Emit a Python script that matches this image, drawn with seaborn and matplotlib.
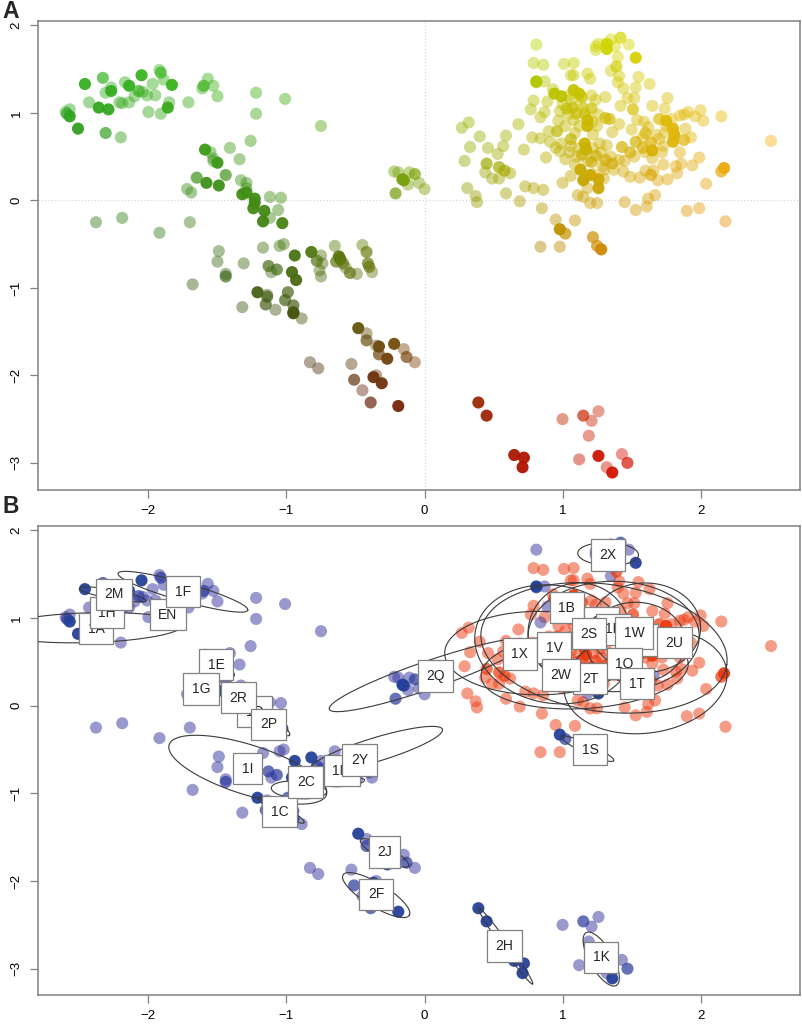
"""Two panel ordination map: position coloured points (A) and labelled group ellipses (B)."""

import matplotlib

matplotlib.use("Agg")
import matplotlib.pyplot as plt
import numpy as np
import pandas as pd
import seaborn as sns

# Point estimates (x, y), split by how saturated they are drawn
light_points = [
    (-2.60, 1.01), (-2.57, 1.04), (-2.43, 1.12), (-2.20, 0.72), (-2.27, 1.29), (-2.31, 1.23), (-2.17, 1.35),
    (-2.21, 1.12), (-2.19, 1.11), (-2.14, 1.12), (-2.10, 1.19), (-2.04, 1.24), (-2.01, 1.20), (-1.95, 1.20),
    (-1.97, 1.33), (-2.00, 1.01), (-1.91, 0.99), (-1.85, 1.12), (-1.92, 1.49), (-1.89, 1.38), (-1.71, 1.12),
    (-1.61, 1.28), (-1.57, 1.39), (-1.53, 1.31), (-1.50, 1.19), (-1.22, 1.23), (-1.22, 0.99), (-1.01, 1.16),
    (-0.75, 0.85), (-1.26, 0.68), (-1.41, 0.60), (-1.34, 0.47), (-1.55, 0.55), (-1.53, 0.45), (-1.53, 0.48),
    (-1.72, 0.13), (-1.69, 0.09), (-1.33, 0.23), (-1.29, 0.20), (-1.29, 0.14), (-1.12, 0.04), (-1.04, 0.03),
    (-1.06, -0.11), (-1.12, -0.20), (-2.38, -0.25), (-2.19, -0.20), (-1.70, -0.25), (-1.92, -0.37),
    (-0.22, 0.33), (-0.19, 0.32), (-0.11, 0.32), (-0.04, 0.20), (-0.12, 0.18), (0.00, 0.13),
    (-1.49, -0.58), (-1.50, -0.70), (-1.31, -0.72), (-1.44, -0.84), (-1.68, -0.96), (-1.17, -0.54),
    (-1.05, -0.52), (-1.02, -0.50), (-1.11, -0.82), (-1.14, -1.08), (-1.08, -1.25), (-1.32, -1.22), (-0.89, -1.35),
    (-0.75, -0.63), (-0.74, -0.72), (-0.76, -0.80), (-0.75, -0.87), (-0.65, -0.52), (-0.57, -0.77), (-0.49, -0.84),
    (-0.45, -0.51), (-0.38, -0.82), (-0.42, -1.52), (-0.35, -1.66), (-0.15, -1.70), (-0.07, -1.85), (-0.83, -1.85),
    (-0.77, -1.92), (-0.53, -1.87), (-0.35, -2.00), (-0.45, -2.17),
    (1.00, -2.50), (1.26, -2.41), (1.21, -2.52), (1.19, -2.69), (1.12, -2.96), (1.43, -2.90), (1.32, -3.05),
    (0.81, 1.78), (0.79, 1.57), (0.86, 1.55), (1.01, 1.56), (1.08, 1.57), (1.06, 1.43), (1.08, 1.43), (1.18, 1.45),
    (1.20, 1.39), (1.26, 1.79), (1.24, 1.76), (1.24, 1.72), (1.35, 1.84), (1.38, 1.76), (1.48, 1.78), (1.40, 1.64),
    (1.35, 1.48), (1.41, 1.42), (1.40, 1.35), (1.55, 1.41), (1.63, 1.33), (1.53, 1.29), (1.44, 1.28), (1.47, 1.17),
    (1.52, 1.17), (1.42, 1.08), (1.76, 1.17), (1.65, 1.08), (1.74, 1.05), (0.87, 1.36), (0.93, 1.27), (0.79, 1.14),
    (0.89, 1.13), (0.77, 1.04), (0.87, 1.01), (0.84, 0.95), (0.68, 0.87), (0.32, 0.89), (0.27, 0.83), (0.40, 0.73),
    (0.59, 0.74), (0.57, 0.62), (0.46, 0.60), (0.33, 0.61), (0.53, 0.53), (0.29, 0.45), (0.44, 0.32), (0.49, 0.25),
    (0.54, 0.25), (0.62, 0.31), (0.31, 0.14), (0.37, 0.05), (0.38, -0.02), (0.59, 0.08), (0.69, -0.01), (0.73, 0.16),
    (0.79, 0.14), (0.86, 0.12), (0.85, -0.09), (1.00, 0.20), (1.06, 0.28), (1.11, 0.06), (1.15, 0.04), (1.20, -0.03),
    (1.25, -0.03), (1.18, 0.14), (1.45, -0.02), (1.53, -0.11), (1.61, -0.07), (1.62, 0.02), (1.67, 0.06),
    (1.90, -0.12), (1.99, -0.09), (2.18, -0.24), (2.04, 0.19), (2.51, 0.68), (2.15, 0.96), (2.00, 1.03), (2.02, 0.91),
    (1.96, 0.96), (1.91, 1.01), (1.88, 0.98), (1.85, 0.97), (1.99, 0.49), (1.94, 0.40), (1.86, 0.42), (1.82, 0.39),
    (1.83, 0.31), (1.76, 0.24), (1.69, 0.23), (1.73, 0.41), (1.85, 0.55), (1.73, 0.62), (1.89, 0.82), (1.93, 0.72),
    (1.79, 0.93), (1.74, 0.77), (1.54, 0.92), (1.59, 0.90), (1.62, 0.84), (1.50, 0.81), (1.41, 0.87), (1.36, 0.78),
    (1.32, 0.63), (1.27, 0.65), (1.56, 0.26), (1.49, 0.27), (1.44, 0.33), (1.60, 0.34), (1.66, 0.34), (1.41, 0.46),
    (1.37, 0.35), (1.29, 0.39), (1.09, 0.41), (1.30, 0.25), (1.21, 1.20), (1.31, 1.18), (1.24, 1.15), (1.06, 1.15),
    (1.04, 0.98), (1.26, 0.98), (0.97, 0.91), (1.02, 0.85), (0.90, 0.79), (0.78, 0.72), (0.84, 0.71), (0.91, 0.67),
    (1.09, 0.77), (1.22, 0.75), (0.99, 0.65), (0.95, 0.60), (0.98, 0.56), (0.72, 0.58), (1.05, 0.55), (0.88, 0.49),
    (1.02, 0.47), (1.09, -0.23), (0.95, -0.22), (0.84, -0.53), (0.98, -0.53),
    (1.05, 1.20), (1.13, 1.10), (1.15, 1.05), (1.00, 1.10), (0.98, 1.02), (1.08, 0.92), (1.12, 0.85), (1.22, 0.90),
    (1.25, 0.85), (1.28, 0.55), (1.22, 0.60), (1.12, 0.60), (1.06, 0.62), (1.18, 0.45), (1.10, 0.50), (1.30, 0.35),
    (1.22, 0.30), (1.35, 0.50), (1.45, 0.45), (1.52, 0.50), (1.58, 0.72), (1.68, 0.75), (1.72, 0.55), (1.65, 0.48),
    (1.60, 0.55), (1.75, 0.85), (1.70, 0.70),
]

mid_points = [
    (-2.59, 0.99), (-2.31, 0.77), (-2.33, 1.40), (-2.07, 1.25), (-1.91, 1.46), (-1.60, 1.31), (-1.65, 0.26),
    (-1.44, 0.29), (-0.07, 0.30), (-0.21, 0.08), (-1.44, -0.87), (-1.13, -0.75), (-1.07, -0.79), (-1.14, -1.10),
    (-1.15, -1.19), (-0.99, -1.05), (-1.01, -1.14), (-0.95, -1.20), (-0.78, -0.69), (-0.64, -0.70), (-0.59, -0.72),
    (-0.54, -0.83), (-0.42, -0.59), (-0.41, -0.72), (-0.40, -0.76), (-0.42, -1.60), (-0.33, -1.76), (-0.13, -1.79),
    (-0.51, -2.05), (-0.39, -2.31), (1.15, -2.46), (1.47, -3.00), (1.42, 1.86), (1.39, 1.53), (1.51, 1.04),
    (0.81, 1.35), (0.45, 0.42), (0.54, 0.38), (0.58, 0.34), (2.15, 0.33), (1.88, 0.69), (1.70, 0.93), (1.60, 0.77),
    (1.53, 0.67), (1.64, 0.66), (1.58, 0.60), (1.49, 0.55), (1.43, 0.61), (1.64, 0.29), (1.36, 0.42), (1.31, 0.46),
    (1.24, 0.51), (1.21, 0.44), (1.14, 1.18), (1.21, 1.05), (1.07, 1.06), (1.03, 1.05), (1.10, 0.99), (1.16, 0.99),
    (1.31, 0.94), (1.34, 0.93), (0.96, 0.79), (1.06, 0.70), (1.14, 0.52), (1.02, -0.38), (1.22, -0.42), (1.25, -0.52),
]

dark_points = [
    (-2.57, 0.96), (-2.51, 0.82), (-2.46, 1.33), (-2.36, 1.06), (-2.29, 1.04), (-2.27, 1.25), (-2.14, 1.31),
    (-2.05, 1.43), (-1.86, 1.06), (-1.83, 1.32), (-1.59, 0.58), (-1.50, 0.43), (-1.58, 0.20), (-1.49, 0.17),
    (-1.32, 0.07), (-1.29, 0.09), (-1.23, 0.02), (-1.23, -0.03), (-1.24, -0.09), (-1.16, -0.12), (-1.17, -0.24),
    (-1.03, -0.26), (-0.16, 0.24), (-0.15, 0.23), (-0.94, -0.63), (-0.96, -0.82), (-0.93, -0.91), (-1.21, -1.05),
    (-0.95, -1.28), (-0.95, -1.29), (-0.82, -0.59), (-0.62, -0.64), (-0.61, -0.67), (-0.48, -1.46), (-0.33, -1.67),
    (-0.27, -1.81), (-0.22, -1.64), (-0.37, -2.02), (-0.31, -2.09), (-0.19, -2.35), (0.39, -2.31), (0.45, -2.46),
    (0.65, -2.91), (0.71, -3.05), (0.72, -2.94), (1.36, -3.11), (1.26, -2.92), (1.32, 1.79), (1.32, 1.73),
    (1.53, 1.63), (0.81, 1.36), (0.94, 1.22), (0.99, 1.19), (2.17, 0.37), (1.80, 0.67), (1.81, 0.75), (1.80, 0.82),
    (1.75, 0.91), (1.65, 0.57), (1.13, 0.35), (1.20, 0.29), (1.15, 0.23), (1.26, 0.24), (1.26, 0.14), (1.08, 1.26),
    (1.12, 1.22), (1.18, 0.92), (1.18, 0.85), (1.16, 0.65), (1.17, 0.58), (0.98, -0.33), (1.28, -0.56),
]

# Points of the right hand cloud that panel B shows in blue
blue_extra = [(1.35, 1.48), (0.81, 1.36), (0.81, 1.35), (0.87, 1.36), (0.84, 0.95), (0.89, 1.13), (1.18, 0.14),
              (1.26, 0.14), (1.66, 0.34), (0.98, -0.33), (1.02, -0.38)]

# Group ellipses: centre, major semi axis vector, minor semi axis vector
ell_cx = [-2.43, -2.26, -1.75, -1.50, -1.08, -1.28, -0.91, -1.04, -0.58, -0.35, 0.03, 1.33, 1.18, -0.29, -0.35, 0.587,
          1.28, 0.935, 1.30, 1.60, 1.60, 1.16, 1.37, 1.12, 1.53, 0.826]
ell_cy = [0.89, 1.27, 1.30, 0.47, -0.22, -0.73, -0.96, -1.19, -0.87, -0.50, 0.35, 1.73, -0.49, -1.68, -2.16, -2.74,
          -2.89, 0.70, 0.66, 0.89, 0.28, 0.41, 0.79, 0.83, 0.72, 0.60]
ell_ux = [0.68, 0.24, 0.47, 0.12, 0.10, 0.57, 0.20, 0.167, 0.145, 0.48, 0.72, 0.22, 0.19, 0.174, 0.24, 0.196,
          0.11, 0.57, 0.89, 0.40, 0.59, 0.75, 0.62, 0.37, 0.36, 0.68]
ell_uy = [0.03, -0.07, -0.21, -0.13, -0.12, -0.285, -0.02, -0.143, 0.02, 0.23, 0.39, -0.01, -0.137, -0.148, -0.23,
          -0.434, -0.30, -0.11, -0.19, 0.00, 0.11, 0.08, 0.00, 0.00, 0.00, 0.00]
ell_vx = [0.00, 0.01, 0.018, 0.03, 0.03, 0.054, 0.00, 0.015, 0.00, 0.025, 0.033, 0.00, 0.015, 0.022, 0.043, 0.022,
          0.072, -0.036, -0.06, 0.00, 0.036, 0.024, 0.00, 0.00, 0.00, 0.00]
ell_vy = [0.17, 0.05, 0.10, 0.03, 0.03, 0.27, 0.10, 0.046, 0.05, -0.13, -0.15, 0.13, 0.05, 0.068, 0.114, 0.023,
          0.068, -0.67, -0.72, 0.51, -0.59, -0.44, 0.63, 0.57, 0.46, 0.476]

# Labels, in drawing order so later boxes cover earlier ones
label_text = ["2X", "1A", "1H", "2M", "EN", "1F", "1E", "1G", "1D", "2R", "2P", "1I", "1C", "1M", "2C", "2Y", "2Q",
              "1X", "1V", "1B", "1N", "1P", "1R", "2S", "1W", "2U", "2T", "1Q", "2W", "1T", "1S", "2J", "2F", "2H", "1K"]
label_x = [1.33, -2.38, -2.30, -2.25, -1.86, -1.75, -1.51, -1.62, -1.23, -1.35, -1.13, -1.28, -1.05, -0.60, -0.86, -0.47,
           0.08, 0.69, 0.94, 1.03, 1.28, 1.57, 1.37, 1.19, 1.52, 1.81, 1.20, 1.45, 0.99, 1.54, 1.20, -0.29, -0.35, 0.58, 1.28]
label_y = [1.72, 0.88, 1.06, 1.27, 1.04, 1.30, 0.47, 0.19, -0.07, 0.09, -0.21, -0.72, -1.21, -0.74, -0.87, -0.62,
           0.34, 0.59, 0.66, 1.12, 0.95, 0.75, 0.87, 0.82, 0.83, 0.72, 0.31, 0.48, 0.35, 0.25, -0.50, -1.67, -2.15, -2.74, -2.87]

x_ticks = [-2, -1, 0, 1, 2]
y_ticks = [-3, -2, -1, 0, 1, 2]

SHADES = {"light": 0.45, "mid": 0.7, "dark": 0.95}
B_ALPHA = {"light": 0.5, "mid": 0.72, "dark": 0.95}
B_BLUE = {"light": "#35359f", "mid": "#2c3a9c", "dark": "#25409a"}
SPINE = "#808080"
POINT_S = 76


def position_colour(x, y):
    """Hex colour for a point: red grows along x, green along y."""
    r = np.interp(x, [-2.5, -1, 0, 1.2, 2.5], [50, 70, 130, 205, 245])
    g = np.interp(y, [-3, -2.3, -1.2, -0.6, 0, 1, 1.8], [20, 45, 110, 135, 160, 190, 215])
    g = g + np.interp(x, [-2.5, -1, 0, 1], [-25, -18, -3, 0])
    b = np.interp(x, [-2.5, 1, 2.5], [35, 0, 20])
    return [f"#{int(a):02x}{int(c):02x}{int(d):02x}" for a, c, d in zip(r, g, b)]


def load_points():
    frames = []
    for shade, pts in [("light", light_points), ("mid", mid_points), ("dark", dark_points)]:
        frame = pd.DataFrame(pts, columns=["x", "y"])
        frame["shade"] = shade
        frames.append(frame)
    df = pd.concat(frames, ignore_index=True)
    df["colour"] = position_colour(df["x"].to_numpy(), df["y"].to_numpy())
    extras = set(blue_extra)
    in_extra = np.array([(a, b) in extras for a, b in zip(df["x"], df["y"])])
    is_red = (df["x"] > 0.2) & (df["y"] > -1) & (df["y"] < 1.6) & ~in_extra
    df["group"] = np.where(is_red, "red", "blue")
    return df


def style_axes(ax, ymin):
    ax.set_xlim(-2.80, 2.72)
    ax.set_ylim(ymin, 2.05)
    ax.set_xticks(x_ticks)
    ax.set_yticks(y_ticks)
    ax.set_xticklabels([str(t).replace("-", "\u2212") for t in x_ticks])
    ax.set_yticklabels([str(t).replace("-", "\u2212") for t in y_ticks], rotation=90, va="center")
    ax.set_xlabel("")
    ax.set_ylabel("")
    ax.tick_params(colors="#808080", labelcolor="black", labelsize=9.5, length=6, width=0.9, pad=5)
    for spine in ax.spines.values():
        spine.set_visible(True)
        spine.set_color(SPINE)
        spine.set_linewidth(1.1)


def draw_panel_a(ax, df):
    ax.axhline(0, color="#d8d8d8", linewidth=0.9, linestyle=":", zorder=0)
    ax.axvline(0, color="#d8d8d8", linewidth=0.9, linestyle=":", zorder=0)
    for shade, alpha in SHADES.items():
        part = df[df["shade"] == shade]
        palette = {c: c for c in part["colour"].unique()}
        sns.scatterplot(data=part, x="x", y="y", hue="colour", palette=palette, alpha=alpha,
                        s=POINT_S, linewidth=0, legend=False, ax=ax)
    style_axes(ax, -3.31)


def draw_panel_b(ax, df):
    for shade, alpha in B_ALPHA.items():
        part = df[df["shade"] == shade]
        palette = {"blue": B_BLUE[shade], "red": "#ec3a10"}
        sns.scatterplot(data=part, x="x", y="y", hue="group", palette=palette, alpha=alpha,
                        s=POINT_S, linewidth=0, legend=False, ax=ax, zorder=2)

    t = np.linspace(0, 2 * np.pi, 120)
    for cx, cy, ux, uy, vx, vy in zip(ell_cx, ell_cy, ell_ux, ell_uy, ell_vx, ell_vy):
        ex = cx + ux * np.cos(t) + vx * np.sin(t)
        ey = cy + uy * np.cos(t) + vy * np.sin(t)
        sns.lineplot(x=ex, y=ey, sort=False, estimator=None, color="#3a3a3a", linewidth=0.8, ax=ax, zorder=3)

    for i, (name, lx, ly) in enumerate(zip(label_text, label_x, label_y)):
        ax.text(lx, ly, name, ha="center", va="center", fontsize=10, zorder=4 + i * 0.01,
                bbox=dict(boxstyle="square,pad=0.62", facecolor="white", edgecolor="#808080", linewidth=0.9))
    style_axes(ax, -3.30)


def main():
    sns.set_style("ticks")
    plt.rcParams["font.family"] = ["Liberation Sans", "DejaVu Sans"]

    df = load_points()

    fig = plt.figure(figsize=(8.03, 10.24), dpi=100)
    ax_a = fig.add_axes([38 / 803, 1 - 490 / 1024, 762 / 803, 469 / 1024])
    ax_b = fig.add_axes([38 / 803, 1 - 995 / 1024, 762 / 803, 469 / 1024])

    draw_panel_a(ax_a, df)
    draw_panel_b(ax_b, df)

    fig.text(2 / 803, 1 - 0 / 1024, "A", fontsize=16.5, fontweight="bold", va="top")
    fig.text(2 / 803, 1 - 495 / 1024, "B", fontsize=16.5, fontweight="bold", va="top")

    fig.savefig("out.png", dpi=100)
    plt.close(fig)


if __name__ == "__main__":
    main()
